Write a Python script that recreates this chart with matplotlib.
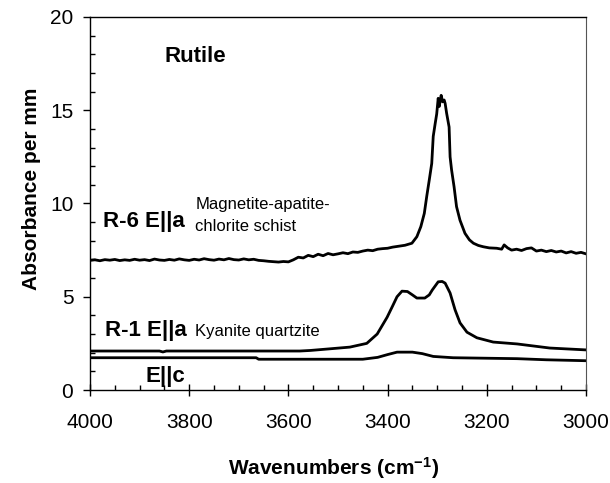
import matplotlib
matplotlib.use("Agg")
import matplotlib.pyplot as plt
from matplotlib.ticker import MultipleLocator

plt.rcParams['font.family'] = ['Liberation Sans', 'DejaVu Sans']
plt.rcParams['mathtext.fontset'] = 'custom'
plt.rcParams['mathtext.rm'] = 'Liberation Sans'
plt.rcParams['mathtext.bf'] = 'Liberation Sans:bold'
plt.rcParams['mathtext.default'] = 'bf'

# R-6 E||a  (Magnetite-apatite-chlorite schist)
r6_wn = [4000, 3990, 3980, 3970, 3960, 3950, 3940, 3930, 3920, 3910, 3900, 3890, 3880, 3870,
         3860, 3850, 3840, 3830, 3820, 3810, 3800, 3790, 3780, 3770, 3760, 3750, 3740, 3730,
         3720, 3710, 3700, 3690, 3680, 3670, 3660, 3650, 3640, 3630, 3620, 3610, 3600, 3590,
         3580, 3570, 3560, 3550, 3540, 3530, 3520, 3510, 3500, 3490, 3480, 3470, 3460, 3450,
         3440, 3430, 3420, 3410, 3400, 3390, 3375, 3365, 3351, 3341, 3333, 3326, 3321, 3316,
         3311, 3308, 3304, 3301, 3298, 3296, 3294, 3292, 3289, 3286, 3284, 3281, 3276, 3274,
         3271, 3266, 3261, 3254, 3244, 3235, 3227, 3217, 3207, 3195, 3180, 3170, 3165, 3158,
         3150, 3140, 3130, 3120, 3110, 3100, 3090, 3080, 3070, 3060, 3050, 3040, 3030, 3020,
         3010, 3000]
r6_abs = [6.95, 6.98, 6.93, 6.99, 6.96, 7.00, 6.94, 6.98, 6.95, 7.01, 6.96, 6.99, 6.94, 7.02,
          6.97, 6.95, 7.00, 6.96, 7.03, 6.98, 6.95, 7.01, 6.97, 7.04, 6.99, 6.96, 7.02, 6.98,
          7.05, 6.99, 6.97, 7.03, 6.98, 7.01, 6.95, 6.93, 6.90, 6.88, 6.86, 6.89, 6.87, 6.98,
          7.12, 7.08, 7.22, 7.15, 7.28, 7.20, 7.32, 7.25, 7.30, 7.36, 7.31, 7.40, 7.38, 7.45,
          7.50, 7.47, 7.55, 7.58, 7.60, 7.66, 7.72, 7.76, 7.87, 8.22, 8.76, 9.47, 10.4, 11.26,
          12.15, 13.6, 14.3, 14.8, 15.64, 15.2, 15.5, 15.8, 15.45, 15.55, 15.37, 14.84, 14.1, 12.5,
          11.8, 10.9, 9.83, 9.1, 8.4, 8.05, 7.87, 7.75, 7.68, 7.62, 7.6, 7.55, 7.78, 7.62,
          7.5, 7.55, 7.48, 7.58, 7.62, 7.45, 7.50, 7.42, 7.48, 7.40, 7.45, 7.35, 7.42, 7.33,
          7.38, 7.30]

# R-1 E||a  (Kyanite quartzite)
r1_wn = [4000, 3900, 3860, 3853, 3846, 3700, 3577, 3556, 3520, 3476, 3442, 3421, 3401, 3390,
         3381, 3371, 3360, 3350, 3341, 3325, 3316, 3310, 3298, 3290, 3284, 3274, 3264, 3254,
         3240, 3220, 3187, 3139, 3073, 3000]
r1_abs = [2.09, 2.09, 2.09, 2.04, 2.09, 2.09, 2.09, 2.12, 2.20, 2.30, 2.50, 3.00, 3.90, 4.50,
          5.00, 5.30, 5.28, 5.10, 4.93, 4.93, 5.10, 5.36, 5.80, 5.82, 5.73, 5.20, 4.30, 3.60,
          3.10, 2.80, 2.57, 2.47, 2.25, 2.15]

# E||c
ec_wn = [4000, 3665, 3660, 3450, 3420, 3400, 3381, 3350, 3330, 3308, 3268, 3139, 3080, 3000]
ec_abs = [1.73, 1.73, 1.65, 1.65, 1.75, 1.90, 2.03, 2.03, 1.95, 1.80, 1.73, 1.68, 1.62, 1.57]

fig = plt.figure(figsize=(6.10, 4.83), dpi=100)
ax = fig.add_axes([90/610, 1-390/483, 496/610, 373/483])

for wn, a in [(r6_wn, r6_abs), (r1_wn, r1_abs), (ec_wn, ec_abs)]:
    ax.plot(wn, a, color='black', lw=2.0)

ax.set_xlim(4000, 3000)
ax.set_ylim(0, 20)
ax.xaxis.set_major_locator(MultipleLocator(200))
ax.xaxis.set_minor_locator(MultipleLocator(50))
ax.yaxis.set_major_locator(MultipleLocator(5))
ax.yaxis.set_minor_locator(MultipleLocator(1))
ax.tick_params(axis='x', which='major', direction='inout', length=9, width=1, pad=12, labelsize=15)
ax.tick_params(axis='x', which='minor', direction='in', length=3.5, width=1)
ax.tick_params(axis='y', which='major', direction='out', length=5, width=1, pad=7, labelsize=15)
ax.tick_params(axis='y', which='minor', direction='in', length=3.5, width=1)
for s in ['left', 'bottom', 'top']:
    ax.spines[s].set_linewidth(1.0)
ax.spines['right'].set_linewidth(0.8)
ax.spines['right'].set_color('#555555')

ax.text(3849, 17.6, 'Rutile', fontsize=16, fontweight='bold', va='baseline')
ax.text(3974, 8.74, 'R-6 E||a', fontsize=16, fontweight='bold', va='baseline')
ax.text(3788, 9.70, 'Magnetite-apatite-', fontsize=12, va='baseline')
ax.text(3788, 8.54, 'chlorite schist', fontsize=12, va='baseline')
ax.text(3970, 2.91, 'R-1 E||a', fontsize=16, fontweight='bold', va='baseline')
ax.text(3788, 2.91, 'Kyanite quartzite', fontsize=12, va='baseline')
ax.text(3889, 0.45, 'E||c', fontsize=16, fontweight='bold', va='baseline')

fig.text(32/610, 1-188.5/483, 'Absorbance per mm', rotation=90, ha='center', va='center',
         fontsize=15, fontweight='bold')
fig.text(334/610, 1-468/483, r'Wavenumbers (cm$^{-1}$)', ha='center', va='center',
         fontsize=15, fontweight='bold')

fig.savefig('out.png', dpi=100)
